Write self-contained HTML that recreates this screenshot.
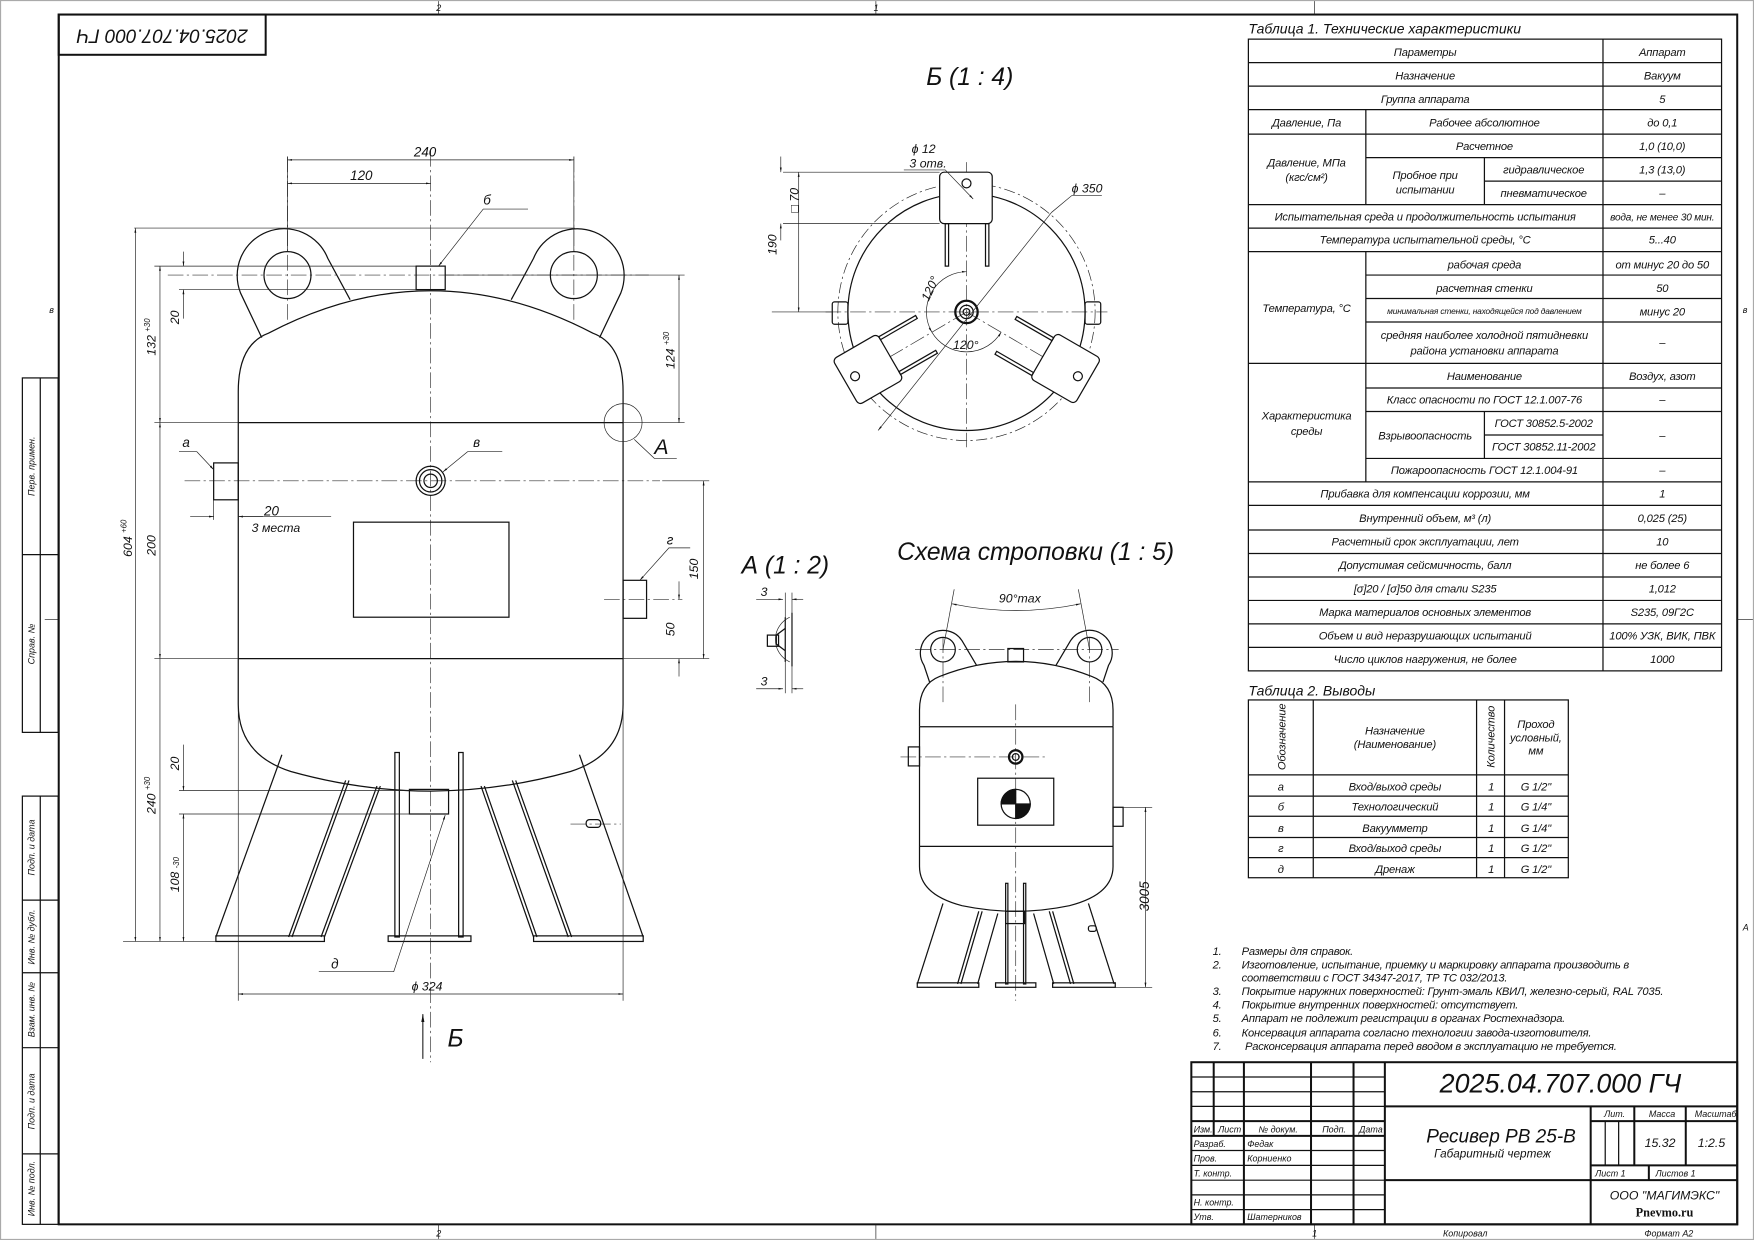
<!DOCTYPE html>
<html><head><meta charset="utf-8">
<style>
html,body{margin:0;padding:0;background:#fff;}
svg{display:block;}
text{font-family:"Liberation Sans","DejaVu Sans",sans-serif;font-style:italic;fill:#111;}
.t{font-size:10px;letter-spacing:-0.15px;}
.s{font-size:8px;}
.k{stroke:#111;fill:none;stroke-width:1.1;}
.b{stroke:#111;fill:none;stroke-width:1.8;}
.th{stroke:#222;fill:none;stroke-width:0.6;}
.c{stroke:#333;fill:none;stroke-width:0.6;stroke-dasharray:14 3 2 3;}
</style></head><body>
<svg width="1754" height="1240" viewBox="0 0 1568 1109" preserveAspectRatio="none" xmlns="http://www.w3.org/2000/svg">
<defs>
<marker id="a" viewBox="0 0 10 10" refX="10" refY="5" markerWidth="7" markerHeight="7" orient="auto-start-reverse"><path d="M0,3 L10,5 L0,7z" fill="#111"/></marker>
</defs>
<rect x="0.5" y="0.5" width="1567" height="1108" fill="none" stroke="#aaa"/>
<rect x="52.5" y="13" width="1500.5" height="1082" class="b"/>
<line x1="392" y1="1" x2="392" y2="13" class="th"/><line x1="783" y1="1" x2="783" y2="13" class="th"/><line x1="1175" y1="1" x2="1175" y2="13" class="th"/>
<line x1="392" y1="1095" x2="392" y2="1108" class="th"/><line x1="783" y1="1095" x2="783" y2="1108" class="th"/><line x1="1175" y1="1095" x2="1175" y2="1108" class="th"/>
<line x1="1553" y1="554" x2="1567" y2="554" class="th"/><line x1="40" y1="554" x2="52" y2="554" class="th"/>
<text x="390" y="10" class="s">2</text><text x="781" y="10" class="s">1</text>
<text x="390" y="1106" class="s">2</text><text x="1173" y="1106" class="s">1</text>
<text x="1290" y="1106" class="s">Копировал</text><text x="1470" y="1106" class="s">Формат А2</text>
<text x="44" y="280" class="s">в</text><text x="1558" y="280" class="s">в</text><text x="1558" y="832" class="s">А</text>
<rect x="52.5" y="13" width="185" height="36" class="b"/>
<text transform="translate(145,31) rotate(180)" text-anchor="middle" dominant-baseline="middle" style="font-size:17px;font-style:italic">2025.04.707.000 ГЧ</text>
<g class="k">
<rect x="20" y="338" width="32" height="317"/><line x1="36" y1="338" x2="36" y2="655"/><line x1="20" y1="496" x2="52" y2="496"/>
<rect x="20" y="712" width="32" height="383"/><line x1="36" y1="712" x2="36" y2="1095"/>
<line x1="20" y1="805" x2="52" y2="805"/><line x1="20" y1="870" x2="52" y2="870"/><line x1="20" y1="937" x2="52" y2="937"/><line x1="20" y1="1032" x2="52" y2="1032"/>
</g>
<g class="s">
<text transform="translate(31,417) rotate(-90)" text-anchor="middle">Перв. примен.</text>
<text transform="translate(31,576) rotate(-90)" text-anchor="middle">Справ. №</text>
<text transform="translate(31,758) rotate(-90)" text-anchor="middle">Подп. и дата</text>
<text transform="translate(31,838) rotate(-90)" text-anchor="middle">Инв. № дубл.</text>
<text transform="translate(31,903) rotate(-90)" text-anchor="middle">Взам. инв. №</text>
<text transform="translate(31,985) rotate(-90)" text-anchor="middle">Подп. и дата</text>
<text transform="translate(31,1063) rotate(-90)" text-anchor="middle">Инв. № подл.</text>
</g>

<g class="c">
<line x1="385" y1="135" x2="385" y2="950"/>
<line x1="257" y1="140" x2="257" y2="290"/><line x1="513" y1="140" x2="513" y2="290"/>
<line x1="150" y1="246" x2="580" y2="246"/>
<line x1="165" y1="430" x2="590" y2="430"/>
<line x1="540" y1="536" x2="610" y2="536"/>
<line x1="510" y1="737" x2="555" y2="737"/>
</g>
<g class="k">
<path d="M234,302 L215,262 A41,41 0 0 1 293,231 L313,268"/>
<circle cx="257" cy="246" r="21"/>
<path d="M536,302 L555,262 A41,41 0 0 0 477,231 L457,268"/>
<circle cx="513" cy="246" r="21"/>
<path d="M213,378 L213,350 Q213,308 240,298 Q385,222 530,298 Q557,308 557,350 L557,378"/>
<path d="M213,589 L213,630 Q213,675 260,690 Q385,725 510,690 Q557,675 557,630 L557,589"/>
<line x1="213" y1="378" x2="557" y2="378"/><line x1="213" y1="589" x2="557" y2="589"/>
<line x1="213" y1="378" x2="213" y2="589"/><line x1="557" y1="378" x2="557" y2="589"/>
<rect x="372" y="238" width="26" height="21"/>
<rect x="191" y="414" width="22" height="33"/>
<rect x="557" y="519" width="21" height="34"/>
<circle cx="385" cy="430" r="13"/><circle cx="385" cy="430" r="10"/><circle cx="385" cy="430" r="6"/>
<rect x="316" y="467" width="139" height="85"/>
<rect x="366" y="706" width="35" height="22"/>
<line x1="252" y1="675" x2="193" y2="838"/>
<line x1="309" y1="698" x2="258" y2="838"/><line x1="312" y1="698" x2="261" y2="838"/>
<line x1="337" y1="703" x2="287" y2="838"/><line x1="340" y1="703" x2="290" y2="838"/>
<line x1="518" y1="675" x2="575" y2="838"/>
<line x1="461" y1="698" x2="511" y2="838"/><line x1="458" y1="698" x2="508" y2="838"/>
<line x1="433" y1="703" x2="480" y2="838"/><line x1="430" y1="703" x2="477" y2="838"/>
<rect x="353" y="673" width="4" height="165"/><rect x="410" y="673" width="4" height="165"/>
<rect x="193" y="837" width="97" height="5"/><rect x="347" y="837" width="74" height="5"/><rect x="477" y="837" width="98" height="5"/>
<rect x="524" y="733" width="13" height="7" rx="3"/>
</g>
<g class="th">
<line x1="120" y1="204" x2="514" y2="204"/>
<line x1="257" y1="140" x2="257" y2="225"/><line x1="513" y1="140" x2="513" y2="225"/>
<line x1="257" y1="143" x2="513" y2="143" marker-start="url(#a)" marker-end="url(#a)"/>
<line x1="257" y1="164" x2="385" y2="164" marker-start="url(#a)" marker-end="url(#a)"/>
<line x1="121" y1="204" x2="121" y2="842" marker-start="url(#a)" marker-end="url(#a)"/>
<line x1="143" y1="238" x2="143" y2="378" marker-start="url(#a)" marker-end="url(#a)"/>
<line x1="143" y1="378" x2="143" y2="589" marker-start="url(#a)" marker-end="url(#a)"/>
<line x1="143" y1="589" x2="143" y2="842" marker-end="url(#a)"/>
<line x1="138" y1="238" x2="372" y2="238"/><line x1="160" y1="259" x2="372" y2="259"/>
<line x1="164" y1="225" x2="164" y2="238" marker-end="url(#a)"/><line x1="164" y1="285" x2="164" y2="259" marker-end="url(#a)"/>
<line x1="138" y1="378" x2="213" y2="378"/><line x1="138" y1="589" x2="213" y2="589"/>
<line x1="110" y1="842" x2="193" y2="842"/>
<line x1="160" y1="707" x2="366" y2="707"/><line x1="160" y1="728" x2="366" y2="728"/>
<line x1="164" y1="666" x2="164" y2="707" marker-end="url(#a)"/><line x1="164" y1="728" x2="164" y2="842" marker-start="url(#a)" marker-end="url(#a)"/>
<line x1="398" y1="246" x2="612" y2="246"/>
<line x1="607" y1="246" x2="607" y2="378" marker-start="url(#a)" marker-end="url(#a)"/>
<line x1="557" y1="378" x2="612" y2="378"/>
<line x1="592" y1="430" x2="634" y2="430"/><line x1="557" y1="589" x2="634" y2="589"/>
<line x1="629" y1="430" x2="629" y2="589" marker-start="url(#a)" marker-end="url(#a)"/>
<line x1="607" y1="520" x2="607" y2="536" marker-end="url(#a)"/><line x1="607" y1="605" x2="607" y2="589" marker-end="url(#a)"/>
<line x1="191" y1="447" x2="191" y2="465"/>
<line x1="170" y1="462" x2="191" y2="462" marker-end="url(#a)"/><line x1="235" y1="462" x2="213" y2="462" marker-end="url(#a)"/>
<line x1="213" y1="462" x2="296" y2="462"/>
<line x1="213" y1="589" x2="213" y2="895"/><line x1="557" y1="589" x2="557" y2="895"/>
<line x1="213" y1="889" x2="557" y2="889" marker-start="url(#a)" marker-end="url(#a)"/>
<line x1="378" y1="947" x2="378" y2="907" marker-end="url(#a)" style="stroke-width:1"/>
<polyline points="472,187 432,187 392,238" marker-end="url(#a)"/>
<polyline points="160,404 176,404 191,420" marker-end="url(#a)"/>
<polyline points="449,404 418,404 396,422" marker-end="url(#a)"/>
<polyline points="617,490 598,490 572,519" marker-end="url(#a)"/>
<polyline points="285,869 352,869 398,729" marker-end="url(#a)"/>
<circle cx="557" cy="378" r="17"/>
<polyline points="567,393 585,410 605,410"/>
</g>
<g style="font-size:12px">
<text x="370" y="140">240</text><text x="313" y="161">120</text>
<text x="432" y="183">б</text><text x="163" y="400">а</text><text x="423" y="400">в</text><text x="596" y="487">г</text><text x="296" y="866">д</text>
<text x="236" y="461">20</text><text x="225" y="476" style="font-size:11px">3 места</text>
<text x="368" y="886" style="font-size:11px">ϕ 324</text>
<text transform="translate(118,498) rotate(-90)" style="font-size:11px">604 <tspan dy="-5" style="font-size:7px">+60</tspan></text>
<text transform="translate(139,318) rotate(-90)" style="font-size:11px">132 <tspan dy="-5" style="font-size:7px">+30</tspan></text>
<text transform="translate(139,497) rotate(-90)" style="font-size:11px">200</text>
<text transform="translate(160,290) rotate(-90)" style="font-size:11px">20</text>
<text transform="translate(160,689) rotate(-90)" style="font-size:11px">20</text>
<text transform="translate(139,728) rotate(-90)" style="font-size:11px">240 <tspan dy="-5" style="font-size:7px">+30</tspan></text>
<text transform="translate(160,798) rotate(-90)" style="font-size:11px">108 <tspan style="font-size:7px">-30</tspan></text>
<text transform="translate(603,330) rotate(-90)" style="font-size:11px">124 <tspan dy="-5" style="font-size:7px">+30</tspan></text>
<text transform="translate(624,518) rotate(-90)" style="font-size:11px">150</text>
<text transform="translate(603,569) rotate(-90)" style="font-size:11px">50</text>
</g>
<text x="585" y="406" style="font-size:19px">А</text>
<text x="400" y="936" style="font-size:22px">Б</text>

<text x="828" y="76" style="font-size:22px">Б (1 : 4)</text>
<g class="c"><line x1="864" y1="145" x2="864" y2="400"/><line x1="738" y1="279" x2="990" y2="279"/>
<line x1="864" y1="279" x2="760" y2="340"/><line x1="864" y1="279" x2="968" y2="340"/></g>
<circle cx="864" cy="279" r="115" class="th" style="stroke-dasharray:10 3 2 3"/>
<circle cx="864" cy="279" r="106" class="k"/>
<g class="k">
<circle cx="864" cy="279" r="10" style="stroke-width:2"/><circle cx="864" cy="279" r="6"/><circle cx="864" cy="279" r="3"/>
<rect x="744" y="270" width="14" height="20" rx="2"/><rect x="970" y="270" width="14" height="20" rx="2"/>
<g id="lug"><rect x="840" y="154" width="47" height="46" rx="4" fill="#fff"/><circle cx="864" cy="164" r="4"/>
<rect x="845" y="200" width="3" height="38"/><rect x="881" y="200" width="3" height="38"/></g>
<use href="#lug" transform="rotate(120 864 279)"/>
<use href="#lug" transform="rotate(-120 864 279)"/>
</g>
<g class="th">
<line x1="700" y1="154" x2="840" y2="154"/><line x1="700" y1="200" x2="840" y2="200"/><line x1="690" y1="279" x2="744" y2="279"/>
<line x1="698" y1="140" x2="698" y2="154" marker-end="url(#a)"/><line x1="698" y1="215" x2="698" y2="200" marker-end="url(#a)"/>
<line x1="714" y1="154" x2="714" y2="279" marker-start="url(#a)" marker-end="url(#a)"/>
<polyline points="808,152 845,152 870,178" marker-end="url(#a)"/>
<line x1="785" y1="385" x2="940" y2="190" marker-start="url(#a)"/>
<polyline points="940,190 958,175 985,175"/>
<path d="M864,243 A36,36 0 0 0 833,297" marker-start="url(#a)" marker-end="url(#a)"/>
<path d="M833,297 A36,36 0 0 0 895,297" marker-end="url(#a)"/>
</g>
<g style="font-size:11px">
<text x="815" y="137">ϕ 12</text><text x="813" y="150">3 отв.</text>
<text x="958" y="172">ϕ 350</text>
<text transform="translate(694,228) rotate(-90)">190</text>
<text transform="translate(714,190) rotate(-90)">□ 70</text>
<text transform="translate(830,270) rotate(-65)">120°</text>
<text x="852" y="312">120°</text>
</g>

<text x="663" y="513" style="font-size:22px">А (1 : 2)</text>
<g class="k">
<path d="M702,552 L702,592 M708,548 L708,596"/>
<path d="M706,552 A22,22 0 0 0 706,592" class="th"/>
<path d="M702,562 L694,568 L694,576 L702,582"/>
<rect x="686" y="568" width="10" height="10"/>
</g>
<g class="th">
<line x1="676" y1="536" x2="700" y2="536" marker-end="url(#a)"/><line x1="718" y1="536" x2="708" y2="536" marker-end="url(#a)"/>
<line x1="676" y1="616" x2="700" y2="616" marker-end="url(#a)"/><line x1="718" y1="616" x2="708" y2="616" marker-end="url(#a)"/>
<line x1="702" y1="530" x2="702" y2="620"/><line x1="708" y1="530" x2="708" y2="620"/>
</g>
<text x="680" y="533" style="font-size:11px">3</text><text x="680" y="613" style="font-size:11px">3</text>

<text x="802" y="501" style="font-size:22px">Схема строповки (1 : 5)</text>
<g class="c"><line x1="908" y1="630" x2="908" y2="895"/><line x1="818" y1="581" x2="1000" y2="581"/><line x1="805" y1="677" x2="935" y2="677"/>
<line x1="843" y1="570" x2="843" y2="630"/><line x1="974" y1="570" x2="974" y2="630"/></g>
<g class="k">
<path d="M831,610 L826,595 A18.5,18.5 0 0 1 860,573 L873,595"/><circle cx="843" cy="581" r="11"/>
<path d="M986,610 L991,595 A18.5,18.5 0 0 0 957,573 L944,595"/><circle cx="974" cy="581" r="11"/>
<rect x="901" y="580" width="14" height="12"/>
<path d="M822,650 L822,635 Q822,612 840,605 Q908,578 976,605 Q995,612 995,635 L995,650"/>
<line x1="822" y1="650" x2="995" y2="650"/><line x1="822" y1="650" x2="822" y2="757"/><line x1="995" y1="650" x2="995" y2="757"/><line x1="822" y1="757" x2="995" y2="757"/>
<path d="M822,757 L822,775 Q822,800 860,810 Q908,820 956,810 Q995,800 995,775 L995,757"/>
<rect x="812" y="668" width="10" height="17"/><rect x="995" y="722" width="9" height="17"/>
<circle cx="908" cy="677" r="6" style="stroke-width:2"/><circle cx="908" cy="677" r="3"/>
<rect x="874" y="696" width="68" height="42"/>
<circle cx="908" cy="719" r="13"/>
<path d="M908,719 L908,706 A13,13 0 0 0 895,719 Z M908,719 L921,719 A13,13 0 0 1 908,732 Z" fill="#111"/>
<rect x="899" y="815" width="17" height="11"/>
<line x1="843" y1="808" x2="820" y2="880"/><line x1="875" y1="815" x2="856" y2="880"/><line x1="878" y1="815" x2="859" y2="880"/>
<line x1="892" y1="817" x2="874" y2="880"/><line x1="973" y1="808" x2="996" y2="880"/><line x1="941" y1="815" x2="960" y2="880"/><line x1="938" y1="815" x2="957" y2="880"/><line x1="924" y1="817" x2="942" y2="880"/>
<rect x="899" y="790" width="2" height="90"/><rect x="915" y="790" width="2" height="90"/>
<rect x="820" y="879" width="55" height="4"/><rect x="890" y="879" width="36" height="4"/><rect x="941" y="879" width="56" height="4"/>
<rect x="973" y="828" width="7" height="5" rx="2"/>
</g>
<g class="th">
<line x1="843" y1="581" x2="853" y2="527"/><line x1="974" y1="581" x2="964" y2="527"/>
<path d="M851,540 Q908,552 966,540" marker-start="url(#a)" marker-end="url(#a)"/>
<line x1="1004" y1="722" x2="1030" y2="722"/><line x1="997" y1="883" x2="1030" y2="883"/>
<line x1="1024" y1="722" x2="1024" y2="883" marker-start="url(#a)" marker-end="url(#a)"/>
</g>
<text x="893" y="539" style="font-size:11px">90°max</text>
<text transform="translate(1027,815) rotate(-90)" style="font-size:12px">3005</text>

<text x="1116" y="30" style="font-size:12.5px">Таблица 1. Технические характеристики</text>
<g class="k">
<rect x="1116" y="35" width="423" height="565"/>
<line x1="1433" y1="35" x2="1433" y2="600"/>
<path d="M1116,56H1539M1116,77H1539M1116,98H1539M1116,120H1539M1116,183H1539M1116,204H1539M1116,225H1539M1116,325H1539M1116,431H1539M1116,452H1539M1116,474H1539M1116,495H1539M1116,516H1539M1116,537H1539M1116,558H1539M1116,579H1539"/>
<path d="M1221,141H1539M1221,246H1539M1221,267H1539M1221,288H1539M1221,347H1539M1221,368H1539M1221,410H1539M1327,162H1539M1327,389H1433"/>
<path d="M1221,98V183M1221,225V431M1327,141V183M1327,368V410"/>
</g>
<g class="t" text-anchor="middle">
<text x="1274" y="50">Параметры</text><text x="1486" y="50">Аппарат</text>
<text x="1274" y="71">Назначение</text><text x="1486" y="71">Вакуум</text>
<text x="1274" y="92">Группа аппарата</text><text x="1486" y="92">5</text>
<text x="1168" y="113">Давление, Па</text><text x="1327" y="113">Рабочее абсолютное</text><text x="1486" y="113">до 0,1</text>
<text x="1168" y="149">Давление, МПа</text><text x="1168" y="162">(кгс/см²)</text>
<text x="1327" y="134">Расчетное</text><text x="1486" y="134">1,0 (10,0)</text>
<text x="1274" y="160">Пробное при</text><text x="1274" y="173">испытании</text>
<text x="1380" y="155">гидравлическое</text><text x="1486" y="155">1,3 (13,0)</text>
<text x="1380" y="176">пневматическое</text><text x="1486" y="176">–</text>
<text x="1274" y="197">Испытательная среда и продолжительность испытания</text><text x="1486" y="197" style="font-size:9px">вода, не менее 30 мин.</text>
<text x="1274" y="218">Температура испытательной среды, °С</text><text x="1486" y="218">5...40</text>
<text x="1168" y="279">Температура, °С</text>
<text x="1327" y="240">рабочая среда</text><text x="1486" y="240">от минус 20 до 50</text>
<text x="1327" y="261">расчетная стенки</text><text x="1486" y="261">50</text>
<text x="1327" y="281" style="font-size:7.5px">минимальная стенки, находящейся под давлением</text><text x="1486" y="282">минус 20</text>
<text x="1327" y="303">средняя наиболее холодной пятидневки</text><text x="1327" y="317">района установки аппарата</text><text x="1486" y="310">–</text>
<text x="1168" y="375">Характеристика</text><text x="1168" y="389">среды</text>
<text x="1327" y="340">Наименование</text><text x="1486" y="340">Воздух, азот</text>
<text x="1327" y="361">Класс опасности по ГОСТ 12.1.007-76</text><text x="1486" y="361">–</text>
<text x="1274" y="393">Взрывоопасность</text><text x="1380" y="382">ГОСТ 30852.5-2002</text><text x="1380" y="403">ГОСТ 30852.11-2002</text><text x="1486" y="393">–</text>
<text x="1327" y="424">Пожароопасность ГОСТ 12.1.004-91</text><text x="1486" y="424">–</text>
<text x="1274" y="445">Прибавка для компенсации коррозии, мм</text><text x="1486" y="445">1</text>
<text x="1274" y="467">Внутренний объем, м³ (л)</text><text x="1486" y="467">0,025 (25)</text>
<text x="1274" y="488">Расчетный срок эксплуатации, лет</text><text x="1486" y="488">10</text>
<text x="1274" y="509">Допустимая сейсмичность, балл</text><text x="1486" y="509">не более 6</text>
<text x="1274" y="530">[σ]20 / [σ]50 для стали S235</text><text x="1486" y="530">1,012</text>
<text x="1274" y="551">Марка материалов основных элементов</text><text x="1486" y="551">S235, 09Г2С</text>
<text x="1274" y="572">Объем и вид неразрушающих испытаний</text><text x="1486" y="572">100% УЗК, ВИК, ПВК</text>
<text x="1274" y="593">Число циклов нагружения, не более</text><text x="1486" y="593">1000</text>
</g>

<text x="1116" y="622" style="font-size:12.5px">Таблица 2. Выводы</text>
<g class="k">
<rect x="1116" y="626" width="286" height="159"/>
<path d="M1174,626V785M1320,626V785M1345,626V785M1116,693H1402M1116,712H1402M1116,730H1402M1116,749H1402M1116,767H1402"/>
</g>
<g class="t" text-anchor="middle">
<text transform="translate(1149,659) rotate(-90)">Обозначение</text>
<text x="1247" y="657">Назначение</text><text x="1247" y="669">(Наименование)</text>
<text transform="translate(1336,659) rotate(-90)">Количество</text>
<text x="1373" y="651">Проход</text><text x="1373" y="663">условный,</text><text x="1373" y="675">мм</text>
<text x="1145" y="707">а</text><text x="1247" y="707">Вход/выход среды</text><text x="1333" y="707">1</text><text x="1373" y="707">G 1/2"</text>
<text x="1145" y="725">б</text><text x="1247" y="725">Технологический</text><text x="1333" y="725">1</text><text x="1373" y="725">G 1/4"</text>
<text x="1145" y="744">в</text><text x="1247" y="744">Вакуумметр</text><text x="1333" y="744">1</text><text x="1373" y="744">G 1/4"</text>
<text x="1145" y="762">г</text><text x="1247" y="762">Вход/выход среды</text><text x="1333" y="762">1</text><text x="1373" y="762">G 1/2"</text>
<text x="1145" y="781">д</text><text x="1247" y="781">Дренаж</text><text x="1333" y="781">1</text><text x="1373" y="781">G 1/2"</text>
</g>

<g style="font-size:10px;letter-spacing:-0.2px">
<text x="1084" y="854">1.</text><text x="1110" y="854">Размеры для справок.</text>
<text x="1084" y="866">2.</text><text x="1110" y="866">Изготовление, испытание, приемку и маркировку аппарата производить в</text>
<text x="1110" y="878">соответствии с ГОСТ 34347-2017, ТР ТС 032/2013.</text>
<text x="1084" y="890">3.</text><text x="1110" y="890">Покрытие наружних поверхностей: Грунт-эмаль КВИЛ, железно-серый, RAL 7035.</text>
<text x="1084" y="902">4.</text><text x="1110" y="902">Покрытие внутренних поверхностей: отсутствует.</text>
<text x="1084" y="914">5.</text><text x="1110" y="914">Аппарат не подлежит регистрации в органах Ростехнадзора.</text>
<text x="1084" y="927">6.</text><text x="1110" y="927">Консервация аппарата согласно технологии завода-изготовителя.</text>
<text x="1084" y="939">7.</text><text x="1113" y="939">Расконсервация аппарата перед вводом в эксплуатацию не требуется.</text>
</g>

<g class="b">
<rect x="1065" y="950" width="488" height="145"/>
<line x1="1238" y1="950" x2="1238" y2="1095"/>
<line x1="1238" y1="989.5" x2="1553" y2="989.5"/>
<line x1="1238" y1="1055.5" x2="1553" y2="1055.5"/>
<line x1="1422" y1="989.5" x2="1422" y2="1095"/>
<line x1="1065" y1="1002.7" x2="1238" y2="1002.7"/>
<line x1="1065" y1="1015.9" x2="1238" y2="1015.9"/>
<line x1="1085" y1="950" x2="1085" y2="1016"/><line x1="1112" y1="950" x2="1112" y2="1095"/>
<line x1="1172" y1="950" x2="1172" y2="1095"/><line x1="1210" y1="950" x2="1210" y2="1095"/>
<line x1="1422" y1="1002.7" x2="1553" y2="1002.7"/><line x1="1422" y1="1042.3" x2="1553" y2="1042.3"/>
<line x1="1461" y1="989.5" x2="1461" y2="1042.3"/><line x1="1507" y1="989.5" x2="1507" y2="1042.3"/>
<line x1="1474" y1="1042.3" x2="1474" y2="1055.5"/>
</g>
<g class="k">
<path d="M1065,963.2H1238M1065,976.4H1238M1065,989.5H1238M1065,1029H1238M1065,1042.3H1238M1065,1055.5H1238M1065,1068.6H1238M1065,1081.8H1238"/>
<path d="M1435,1002.7V1042.3M1447,1002.7V1042.3"/>
</g>
<g style="font-size:8px">
<text x="1067" y="1013">Изм.</text><text x="1089" y="1013">Лист</text><text x="1125" y="1013">№ докум.</text><text x="1182" y="1013">Подп.</text><text x="1215" y="1013">Дата</text>
<text x="1067" y="1026">Разраб.</text><text x="1115" y="1026">Федак</text>
<text x="1067" y="1039">Пров.</text><text x="1115" y="1039">Корниенко</text>
<text x="1067" y="1052">Т. контр.</text>
<text x="1067" y="1078">Н. контр.</text>
<text x="1067" y="1091">Утв.</text><text x="1115" y="1091">Шатерников</text>
<text x="1434" y="999">Лит.</text><text x="1474" y="999">Масса</text><text x="1515" y="999">Масштаб</text>
<text x="1426" y="1052">Лист 1</text><text x="1480" y="1052">Листов 1</text>
</g>
<text x="1395" y="977" text-anchor="middle" style="font-size:24px">2025.04.707.000 ГЧ</text>
<text x="1275" y="1022" style="font-size:17px">Ресивер РВ 25-В</text>
<text x="1282" y="1035" style="font-size:10.5px">Габаритный чертеж</text>
<text x="1484" y="1026" text-anchor="middle" style="font-size:11px">15.32</text>
<text x="1530" y="1026" text-anchor="middle" style="font-size:11px">1:2.5</text>
<text x="1488" y="1073" text-anchor="middle" style="font-size:11px">ООО "МАГИМЭКС"</text>
<text x="1488" y="1088" text-anchor="middle" style="font-size:11px;font-family:'Liberation Serif',serif;font-weight:bold;font-style:normal">Pnevmo.ru</text>
</svg>
</body></html>
